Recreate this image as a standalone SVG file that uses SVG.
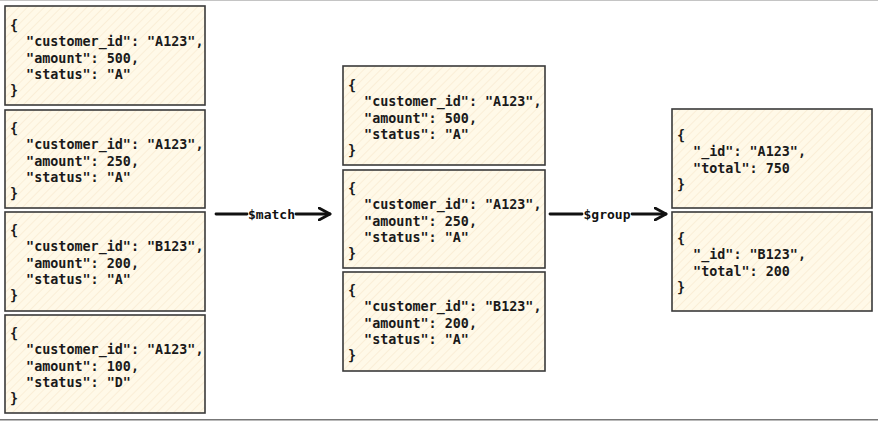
<svg xmlns="http://www.w3.org/2000/svg" width="878" height="421" viewBox="0 0 878 421">
<defs>
<pattern id="hatch" width="6" height="6" patternUnits="userSpaceOnUse" patternTransform="rotate(45)">
<rect width="6" height="6" fill="#fff9e8"/>
<line x1="0" y1="0" x2="0" y2="6" stroke="#f8ead0" stroke-width="1.4"/>
</pattern>
<marker id="ah" viewBox="0 0 14 14" refX="12" refY="7" markerWidth="14" markerHeight="14" markerUnits="userSpaceOnUse" orient="auto">
<path d="M1,1 L12,7 L1,13" fill="none" stroke="#111" stroke-width="2.8" stroke-linecap="round" stroke-linejoin="round"/>
</marker>
</defs>
<style>
.box{fill:url(#hatch);stroke:#3a3a3a;stroke-width:1.6}
.t{font-family:"DejaVu Sans Mono","Liberation Mono",monospace;font-size:13.4px;font-weight:bold;fill:#1a1a1a;white-space:pre}
.lbl{font-family:"DejaVu Sans Mono","Liberation Mono",monospace;font-size:13px;font-weight:bold;fill:#111}
.edge{stroke:#111;stroke-width:2.8;fill:none;stroke-linecap:round}
</style>
<rect width="878" height="421" fill="#fff"/>
<line x1="0" y1="0.5" x2="878" y2="0.5" stroke="#c4c4c4" stroke-width="1"/>
<line x1="0" y1="419.8" x2="878" y2="419.8" stroke="#777" stroke-width="1.5"/>

<g id="in1"><rect class="box" x="5" y="6" width="200" height="99"/>
<text class="t" x="10" y="30" xml:space="preserve"><tspan x="10">{</tspan><tspan x="10" dy="16.3">  "customer_id": "A123",</tspan><tspan x="10" dy="16.3">  "amount": 500,</tspan><tspan x="10" dy="16.3">  "status": "A"</tspan><tspan x="10" dy="16.3">}</tspan></text></g>
<g id="in2"><rect class="box" x="5" y="110" width="200" height="98"/>
<text class="t" x="10" y="133" xml:space="preserve"><tspan x="10">{</tspan><tspan x="10" dy="16.3">  "customer_id": "A123",</tspan><tspan x="10" dy="16.3">  "amount": 250,</tspan><tspan x="10" dy="16.3">  "status": "A"</tspan><tspan x="10" dy="16.3">}</tspan></text></g>
<g id="in3"><rect class="box" x="5" y="212" width="200" height="99"/>
<text class="t" x="10" y="235" xml:space="preserve"><tspan x="10">{</tspan><tspan x="10" dy="16.3">  "customer_id": "B123",</tspan><tspan x="10" dy="16.3">  "amount": 200,</tspan><tspan x="10" dy="16.3">  "status": "A"</tspan><tspan x="10" dy="16.3">}</tspan></text></g>
<g id="in4"><rect class="box" x="5" y="315" width="200" height="98"/>
<text class="t" x="10" y="338" xml:space="preserve"><tspan x="10">{</tspan><tspan x="10" dy="16.3">  "customer_id": "A123",</tspan><tspan x="10" dy="16.3">  "amount": 100,</tspan><tspan x="10" dy="16.3">  "status": "D"</tspan><tspan x="10" dy="16.3">}</tspan></text></g>

<g id="m1"><rect class="box" x="343" y="66" width="202" height="99"/>
<text class="t" x="348" y="90" xml:space="preserve"><tspan x="348">{</tspan><tspan x="348" dy="16.3">  "customer_id": "A123",</tspan><tspan x="348" dy="16.3">  "amount": 500,</tspan><tspan x="348" dy="16.3">  "status": "A"</tspan><tspan x="348" dy="16.3">}</tspan></text></g>
<g id="m2"><rect class="box" x="343" y="170" width="202" height="98"/>
<text class="t" x="348" y="193" xml:space="preserve"><tspan x="348">{</tspan><tspan x="348" dy="16.3">  "customer_id": "A123",</tspan><tspan x="348" dy="16.3">  "amount": 250,</tspan><tspan x="348" dy="16.3">  "status": "A"</tspan><tspan x="348" dy="16.3">}</tspan></text></g>
<g id="m3"><rect class="box" x="343" y="272" width="202" height="99"/>
<text class="t" x="348" y="295" xml:space="preserve"><tspan x="348">{</tspan><tspan x="348" dy="16.3">  "customer_id": "B123",</tspan><tspan x="348" dy="16.3">  "amount": 200,</tspan><tspan x="348" dy="16.3">  "status": "A"</tspan><tspan x="348" dy="16.3">}</tspan></text></g>

<g id="g1"><rect class="box" x="672" y="109" width="200" height="99"/>
<text class="t" x="677" y="140" xml:space="preserve"><tspan x="677">{</tspan><tspan x="677" dy="16.3">  "_id": "A123",</tspan><tspan x="677" dy="16.3">  "total": 750</tspan><tspan x="677" dy="16.3">}</tspan></text></g>
<g id="g2"><rect class="box" x="672" y="212" width="200" height="99"/>
<text class="t" x="677" y="243" xml:space="preserve"><tspan x="677">{</tspan><tspan x="677" dy="16.3">  "_id": "B123",</tspan><tspan x="677" dy="16.3">  "total": 200</tspan><tspan x="677" dy="16.3">}</tspan></text></g>

<g id="connectors">
<line class="edge" x1="216" y1="214" x2="247" y2="214"/>
<line class="edge" x1="296" y1="214" x2="330" y2="214" marker-end="url(#ah)"/>
<text class="lbl" x="271.5" y="218.5" text-anchor="middle">$match</text>
<line class="edge" x1="550" y1="214" x2="582" y2="214"/>
<line class="edge" x1="632" y1="214" x2="666" y2="214" marker-end="url(#ah)"/>
<text class="lbl" x="607" y="218.5" text-anchor="middle">$group</text>
</g>
</svg>
